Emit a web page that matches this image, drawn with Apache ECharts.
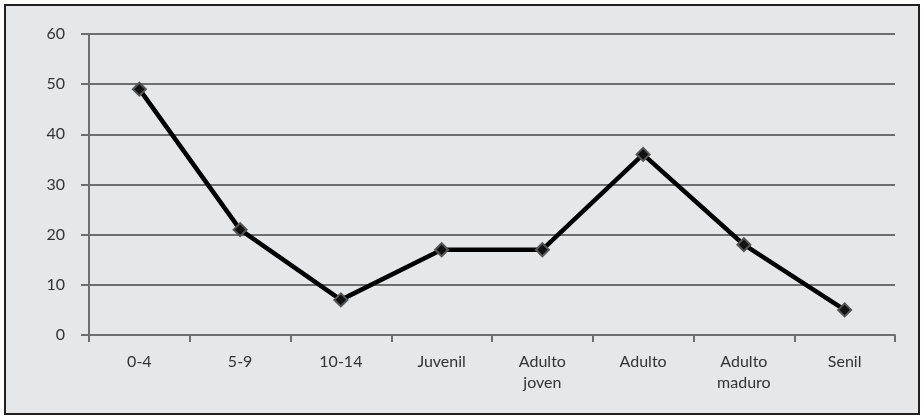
<!DOCTYPE html>
<html>
<head>
    <meta charset="utf-8">
    <title>Grupos de edad</title>
    <style>
        html, body { margin: 0; padding: 0; background: #ffffff; }
    </style>
</head>
<body>
    <div id="main" style="width: 924px;height:418px;"></div>
</body>
<script src="https://cdn.jsdelivr.net/npm/echarts@6/dist/echarts.min.js"></script>
<script>
var categories = ['0-4', '5-9', '10-14', 'Juvenil', 'Adulto\njoven', 'Adulto', 'Adulto\nmaduro', 'Senil'];
var values = [49, 21, 7, 17, 17, 36, 18, 5];
var yTicks = { min: 0, max: 60, interval: 10 };

var gridColor = '#6d6e70';
var myChart = echarts.init(document.getElementById('main'));

myChart.setOption({
    backgroundColor: '#ffffff',
    animation: false,
    graphic: [{
        type: 'rect',
        z: -10,
        shape: { x: 5, y: 5, width: 914, height: 409 },
        style: { fill: '#e6e7e8', stroke: '#231f20', lineWidth: 2 }
    }],
    grid: { //plot area
        left: 89,
        right: 29,
        top: 34,
        bottom: 83
    },
    xAxis: {
        type: 'category',
        data: categories,
        boundaryGap: true,
        axisLine: { lineStyle: { color: gridColor, width: 2 } },
        axisTick: { show: true, alignWithLabel: false, length: 7, lineStyle: { color: gridColor, width: 2 } },
        axisLabel: {
            color: '#333333',
            fontFamily: 'Lato',
            fontSize: 16,
            margin: 16,
            lineHeight: 21,
            interval: 0
        },
        splitLine: { show: false }
    },
    yAxis: {
        type: 'value',
        min: yTicks.min,
        max: yTicks.max,
        interval: yTicks.interval,
        axisLine: { show: true, lineStyle: { color: gridColor, width: 2 } },
        axisTick: { show: true, length: 8, lineStyle: { color: gridColor, width: 2 } },
        axisLabel: {
            color: '#333333',
            fontFamily: 'Lato',
            fontSize: 16,
            margin: 24
        },
        splitLine: { show: true, lineStyle: { color: gridColor, width: 2 } }
    },
    series: [{
        type: 'line',
        data: values,
        symbol: 'diamond',
        symbolSize: 13,
        itemStyle: { color: '#111111', borderColor: '#555555', borderWidth: 2 },
        lineStyle: { color: '#000000', width: 4.5 }
    }]
});
</script>
</html>
